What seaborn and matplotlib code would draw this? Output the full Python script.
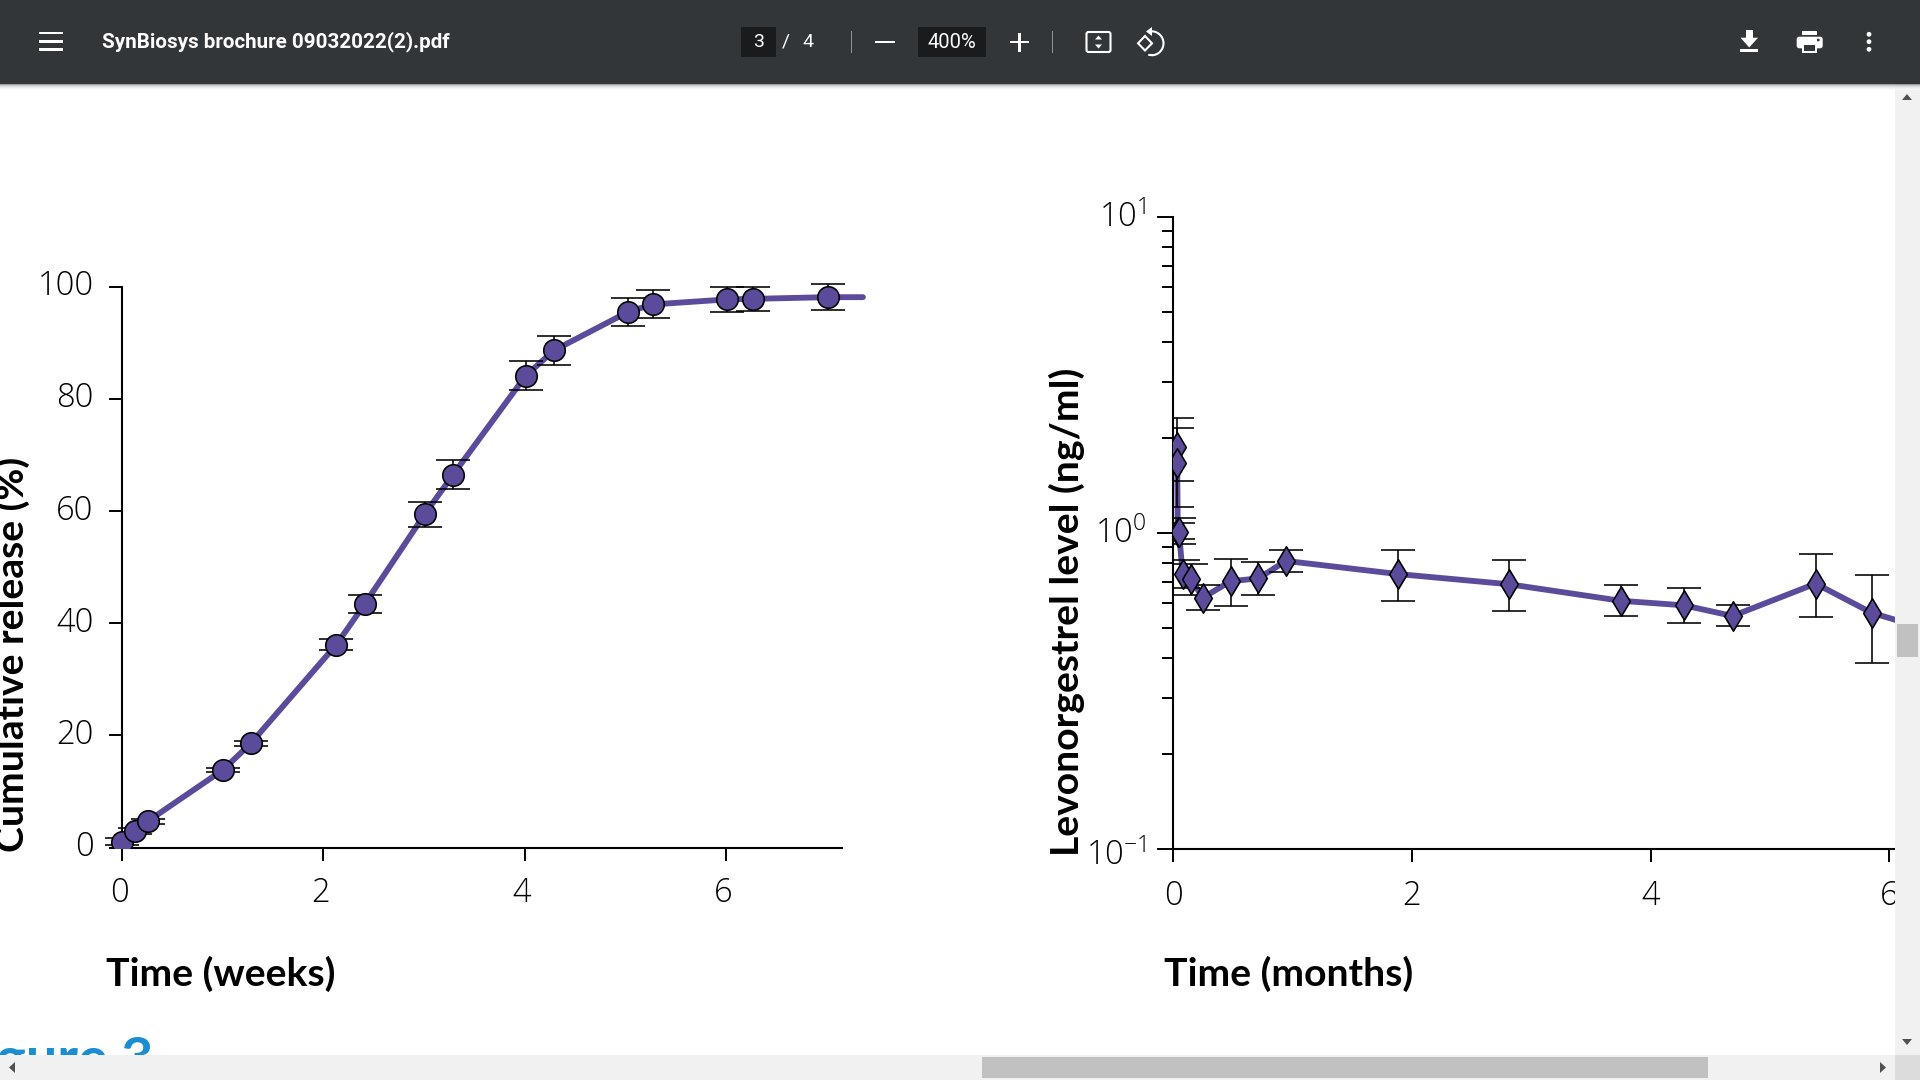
import numpy as np
import pandas as pd
import seaborn as sns
import matplotlib
matplotlib.use("Agg")
import matplotlib.pyplot as plt
from matplotlib.patches import Rectangle, Polygon, Circle, FancyBboxPatch, Arc
from matplotlib.lines import Line2D
from matplotlib.transforms import Affine2D, ScaledTranslation
from matplotlib.ticker import LogLocator, NullFormatter, FixedLocator, FixedFormatter

# ---- data ----
release_weeks = [0.0, 0.13, 0.255, 1.006, 1.28, 2.13, 2.41, 3.006, 3.29, 4.01, 4.29, 5.03, 5.27, 6.01, 6.27, 7.01]
release_pct = [1.07, 3.0, 4.7, 13.9, 18.6, 36.2, 43.4, 59.4, 66.5, 84.1, 88.6, 95.5, 96.8, 97.7, 97.8, 98.1]
release_err = [0.6, 0.5, 0.42, 0.39, 0.48, 1.0, 1.6, 2.2, 2.6, 2.6, 2.6, 2.5, 2.5, 2.2, 2.2, 2.3]
release_line_end_week = 7.36
release_line_end_pct = 98.1

lng_months = [0.03, 0.035, 0.04, 0.05, 0.081, 0.151, 0.251, 0.482, 0.715, 0.946, 1.882, 2.812, 3.749, 4.28, 4.687, 5.382, 5.851]
lng_level = [1.87, 1.665, 1.007, 1.007, 0.739, 0.712, 0.623, 0.702, 0.717, 0.814, 0.740, 0.687, 0.609, 0.589, 0.545, 0.690, 0.558]
lng_upper = [2.31, 2.15, 1.076, 1.116, 0.82, 0.794, 0.683, 0.824, 0.809, 0.884, 0.884, 0.820, 0.683, 0.668, 0.592, 0.854, 0.736]
lng_lower = [1.454, 1.206, 0.955, 0.919, 0.67, 0.635, 0.568, 0.585, 0.635, 0.753, 0.608, 0.567, 0.546, 0.517, 0.508, 0.540, 0.388]
lng_line_end_month = 6.1
lng_line_end_level = 0.523

left_xticks = [0, 2, 4, 6]
left_yticks = [0, 20, 40, 60, 80, 100]
right_xticks = [0, 2, 4, 6]
right_yticks = [0.1, 1, 10]
right_ylabels = ["$\\mathregular{10^{-1}}$", "$\\mathregular{10^{0}}$", "$\\mathregular{10^{1}}$"]

PURPLE = "#5c4a9a"
TICK_FONT = "Open Sans"
LABEL_FONT = "Lato"
TICK_SIZE = 23.5

sns.set_theme(style="ticks")
plt.rcParams["font.family"] = [TICK_FONT, "DejaVu Sans"]
plt.rcParams["font.weight"] = "light"
plt.rcParams["mathtext.fontset"] = "custom"
plt.rcParams["mathtext.rm"] = TICK_FONT + ":light"

W, H = 1920, 1080
fig = plt.figure(figsize=(W / 100, H / 100), dpi=100, facecolor="white")
px = Affine2D().scale(1, -1).translate(0, H)


def axes_px(x0, y0, x1, y1):
    ax = fig.add_axes([x0 / W, 1 - y1 / H, (x1 - x0) / W, (y1 - y0) / H])
    ax.patch.set_visible(False)
    return ax


def nudge(labels, dx_px, dy_px):
    off = ScaledTranslation(dx_px / 100, dy_px / 100, fig.dpi_scale_trans)
    for lb in labels:
        lb.set_transform(lb.get_transform() + off)


def draw_series(ax, x, y, lo, hi, end_x, end_y, marker, size):
    line = pd.DataFrame({"x": list(x) + [end_x], "y": list(y) + [end_y]})
    pts = pd.DataFrame({"x": x, "y": y})
    sns.lineplot(data=line, x="x", y="y", ax=ax, color=PURPLE, linewidth=4.2, sort=False,
                 estimator=None, solid_capstyle="round", zorder=2)
    ax.errorbar(x, y, yerr=[np.array(y) - np.array(lo), np.array(hi) - np.array(y)], fmt="none",
                ecolor="black", elinewidth=1.15, capsize=12, capthick=1.15, zorder=2.5)
    sns.scatterplot(data=pts, x="x", y="y", ax=ax, marker=marker, s=size, color=PURPLE,
                    edgecolor="black", linewidth=1.15, zorder=3, legend=False)
    ax.set_xlabel("")
    ax.set_ylabel("")


# ---- left panel ----
X0L, SXL = 122, 100.67
Y0L, SYL = 847.7, 5.612
axl = axes_px(X0L - 0.3 * SXL, Y0L - 105 * SYL, X0L + 7.5 * SXL, Y0L)
low = np.array(release_pct) - np.array(release_err)
high = np.array(release_pct) + np.array(release_err)
draw_series(axl, release_weeks, release_pct, low, high, release_line_end_week, release_line_end_pct, "o", 240)
axl.set_xlim(-0.3, 7.5)
axl.set_ylim(0, 105)
axl.spines["top"].set_visible(False)
axl.spines["right"].set_visible(False)
axl.spines["left"].set_position(("data", 0))
axl.spines["left"].set_bounds(0, 100)
axl.spines["bottom"].set_bounds(0, 7.15)
for s in ("left", "bottom"):
    axl.spines[s].set_linewidth(1.5)
    axl.spines[s].set_color("black")
axl.set_xticks(left_xticks)
axl.set_yticks(left_yticks)
axl.tick_params(axis="y", length=9.5, width=1.4, color="black", labelsize=TICK_SIZE, pad=11, labelcolor="black")
axl.tick_params(axis="x", length=9.5, width=1.4, color="black", labelsize=TICK_SIZE, pad=11, labelcolor="black")
nudge(axl.get_yticklabels(), 0, 4)
nudge(axl.get_xticklabels(), -3, 0)

# ---- right panel ----
X0R, SXR = 1173, 119.4
axr = axes_px(X0R, 216.7, X0R + 6.3 * SXR, 848.7)
axr.set_yscale("log")
draw_series(axr, lng_months, lng_level, lng_lower, lng_upper, lng_line_end_month, lng_line_end_level, "d", 225)
axr.set_xlim(0, 6.3)
axr.set_ylim(0.1, 10)
axr.spines["top"].set_visible(False)
axr.spines["right"].set_visible(False)
for s in ("left", "bottom"):
    axr.spines[s].set_linewidth(1.5)
    axr.spines[s].set_color("black")
axr.set_xticks(right_xticks)
axr.yaxis.set_major_locator(FixedLocator(right_yticks))
axr.yaxis.set_major_formatter(FixedFormatter(right_ylabels))
axr.yaxis.set_minor_locator(LogLocator(base=10, subs=np.arange(2, 10), numticks=12))
axr.yaxis.set_minor_formatter(NullFormatter())
axr.tick_params(axis="y", which="major", length=11.5, width=1.4, color="black", labelsize=TICK_SIZE, pad=8, labelcolor="black")
axr.tick_params(axis="y", which="minor", length=8, width=1.4, color="black")
axr.tick_params(axis="x", length=9.5, width=1.4, color="black", labelsize=TICK_SIZE, pad=13, labelcolor="black")
ylabs = axr.get_yticklabels()
nudge(ylabs[:1], 0, -3)
nudge(ylabs[1:], 0, 3)

# ---- axis titles ----
lab = dict(fontfamily=[LABEL_FONT, "DejaVu Sans"], fontweight="bold", color="black", fontsize=28.2, transform=px,
           ha="center", va="center")
fig.text(221, 974, "Time (weeks)", **lab)
fig.text(1289, 974, "Time (months)", **lab)
fig.text(12, 654, "Cumulative release (%)", rotation=90, **lab)
fig.text(1067, 612, "Levonorgestrel level (ng/ml)", rotation=90, **lab)
fig.text(153, 1076, "Figure 3", color="#1b8dd0", fontsize=40, fontweight="bold", fontfamily=[LABEL_FONT, "DejaVu Sans"],
         transform=px, ha="right", va="baseline", zorder=5)

# ---- viewer chrome ----
DARK = "#323639"
Z = 10


def rect(x0, y0, x1, y1, color, z=Z):
    fig.add_artist(Rectangle((x0, y0), x1 - x0, y1 - y0, transform=px, facecolor=color, edgecolor="none", zorder=z))


def poly(points, color, z=Z + 1):
    fig.add_artist(Polygon(points, closed=True, transform=px, facecolor=color, edgecolor="none", zorder=z))


def seg(x0, y0, x1, y1, color="white", lw=1.6, z=Z + 1):
    fig.add_artist(Line2D([x0, x1], [y0, y1], transform=px, color=color, linewidth=lw, zorder=z))


def ui_text(x, y, s, size=13, weight="normal", ha="center"):
    fig.text(x, y, s, color="white", fontsize=size, fontweight=weight, fontfamily=["Roboto", "DejaVu Sans"],
             transform=px, ha=ha, va="center", zorder=Z + 2)


# scrollbars
rect(1895, 84, W, 1055, "#f1f1f1")
rect(0, 1055, 1895, H, "#f1f1f1")
rect(1895, 1055, W, H, "#dcdcdc")
rect(1897, 624, 1918, 657, "#c1c1c1", Z + 1)
rect(982, 1057, 1708, 1077.5, "#c1c1c1", Z + 1)
GREY = "#505050"
poly([(1902, 100), (1912, 100), (1907, 94)], GREY)
poly([(1902, 1039), (1912, 1039), (1907, 1045)], GREY)
poly([(1880, 1062), (1880, 1073), (1886, 1067.5)], GREY)
poly([(15, 1062), (15, 1073), (9, 1067.5)], GREY)

# header and its shadow
rect(0, 0, W, 84, DARK, Z + 0.5)
for i, c in enumerate(["#8a8c8e", "#b9babb", "#d6d6d7", "#e7e7e7", "#f2f2f2", "#f9f9f9"]):
    fig.add_artist(Rectangle((0, 84 + i), W, 1, transform=px, facecolor=c, edgecolor="none", alpha=0.8, zorder=Z))

for yy in (33, 41.5, 49.5):
    rect(39, yy - 1.2, 63, yy + 1.2, "white", Z + 1)
ui_text(102, 42, "SynBiosys brochure 09032022(2).pdf", size=14.9, weight="bold", ha="left")
rect(741, 27, 776, 57, "#191b1c", Z + 1)
ui_text(758.5, 42, "3", 14)
ui_text(786, 42, "/", 14)
ui_text(808, 42, "4", 14)
rect(850.5, 31, 851.7, 53, "#8e9092", Z + 1)
rect(875, 40.5, 895, 43, "white", Z + 1)
rect(918, 27, 986, 57, "#191b1c", Z + 1)
ui_text(952, 42, "400%", 14.5)
rect(1010, 40.7, 1029, 43, "white", Z + 1)
rect(1018.3, 32.5, 1020.6, 51.5, "white", Z + 1)
rect(1052, 31, 1053.2, 53, "#8e9092", Z + 1)

# fit-to-page icon
fig.add_artist(FancyBboxPatch((1086.5, 32), 24, 20, boxstyle="round,pad=0,rounding_size=2", transform=px,
                              facecolor="none", edgecolor="white", linewidth=1.5, zorder=Z + 1))
poly([(1095, 39.5), (1102, 39.5), (1098.5, 35.5)], "white")
poly([(1095, 44.5), (1102, 44.5), (1098.5, 48.5)], "white")

# rotate icon
fig.add_artist(Polygon([(1145, 36), (1152, 43.3), (1145, 50.5), (1138, 43.3)], closed=True, transform=px,
                       facecolor="none", edgecolor="white", linewidth=1.5, zorder=Z + 1))
fig.add_artist(Arc((1151.5, 43.3), 24, 24, theta1=-90, theta2=90, transform=px, color="white", linewidth=1.5,
                   zorder=Z + 1))
poly([(1146, 31.5), (1152, 27), (1152, 36)], "white")
seg(1149, 55.3, 1152, 55.3, lw=1.5)

# download icon
rect(1745.7, 30, 1753.3, 38, "white", Z + 1)
poly([(1740.5, 37.7), (1758, 37.7), (1749.2, 47.5)], "white")
rect(1740, 49.3, 1758, 52, "white", Z + 1)

# print icon
rect(1801.7, 30.7, 1817.3, 35, "white", Z + 1)
fig.add_artist(FancyBboxPatch((1796.7, 36.7), 26, 11.6, boxstyle="round,pad=0,rounding_size=2.5", transform=px,
                              facecolor="white", edgecolor="none", zorder=Z + 1))
rect(1801.7, 43.5, 1817.3, 53.3, "white", Z + 1)
rect(1804.3, 45, 1814.7, 50.7, DARK, Z + 2)
fig.add_artist(Circle((1818.3, 40), 1.4, transform=px, facecolor=DARK, edgecolor="none", zorder=Z + 2))

# more icon
for yy in (34.3, 41.7, 49.3):
    fig.add_artist(Circle((1869, yy), 2.4, transform=px, facecolor="white", edgecolor="none", zorder=Z + 1))

fig.savefig("out.png", dpi=100, facecolor="white")
